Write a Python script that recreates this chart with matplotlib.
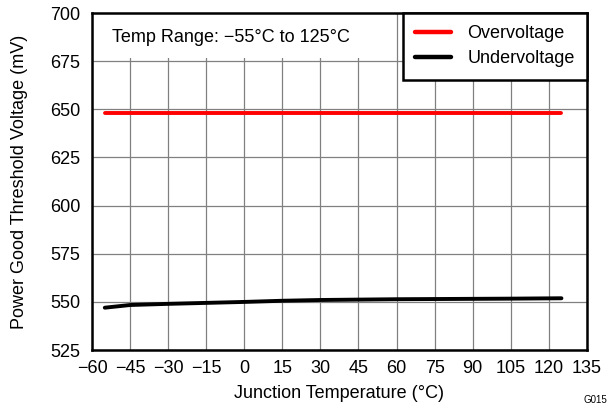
import numpy as np
import matplotlib
matplotlib.use("Agg")
import matplotlib.pyplot as plt
from matplotlib.patches import Rectangle

plt.rcParams["font.family"] = ["Liberation Sans", "DejaVu Sans"]

# data
temp = [-55, -45, -30, -15, 0, 15, 30, 45, 60, 75, 90, 105, 125]
overvoltage = [648.3, 648.3, 648.3, 648.3, 648.3, 648.3, 648.3, 648.3, 648.3, 648.3, 648.3, 648.3, 648.3]
undervoltage = [547.0, 548.4, 549.0, 549.5, 550.0, 550.6, 551.0, 551.2, 551.4, 551.5, 551.6, 551.7, 551.9]

xticks = np.arange(-60, 136, 15)
yticks = np.arange(525, 701, 25)
xtick_labels = [str(t).replace("-", "\u2212") for t in xticks]

fs = 13

fig = plt.figure(figsize=(6.1, 4.08), dpi=100)
ax = fig.add_axes([0.151, 0.142, 0.811, 0.826])

ax.plot(temp, overvoltage, color="#ff0000", lw=2.8, solid_capstyle="round", label="Overvoltage", zorder=3)
ax.plot(temp, undervoltage, color="black", lw=2.8, solid_capstyle="round", label="Undervoltage", zorder=3)

ax.set_xlim(-60, 135)
ax.set_ylim(525, 700)
ax.set_xticks(xticks)
ax.set_xticklabels(xtick_labels)
ax.set_yticks(yticks)
ax.tick_params(length=0, labelsize=fs)
ax.tick_params(axis="x", pad=7.5)
ax.tick_params(axis="y", pad=8.5)
ax.grid(True, color="#808080", lw=0.9)
ax.set_axisbelow(True)
for s in ax.spines.values():
    s.set_linewidth(1.8)

ax.set_xlabel("Junction Temperature (\u00b0C)", fontsize=fs)
ax.set_ylabel("Power Good Threshold Voltage (mV)", fontsize=fs)
ax.xaxis.set_label_coords(0.5, -0.105)
ax.yaxis.set_label_coords(-0.129, 0.5)

# white box hiding the grid behind the note
ax.add_patch(Rectangle((0.003, 0.868), 0.61, 0.13, transform=ax.transAxes,
                       facecolor="white", edgecolor="none", zorder=2))
ax.text(0.04, 0.927, "Temp Range: \u221255\u00b0C to 125\u00b0C", transform=ax.transAxes,
        fontsize=fs, va="center", ha="left", zorder=4)

leg = ax.legend(loc="upper right", fontsize=fs, frameon=True, fancybox=False,
                borderaxespad=0, handlelength=2.0, handletextpad=0.9,
                borderpad=0.68, labelspacing=0.45)
leg.get_frame().set_edgecolor("black")
leg.get_frame().set_linewidth(1.8)
leg.get_frame().set_alpha(1)
for h in leg.get_lines():
    h.set_linewidth(3.2)

fig.text(0.956, 0.02, "G015", fontsize=7, ha="left", va="center")

fig.savefig("out.png", dpi=100)
